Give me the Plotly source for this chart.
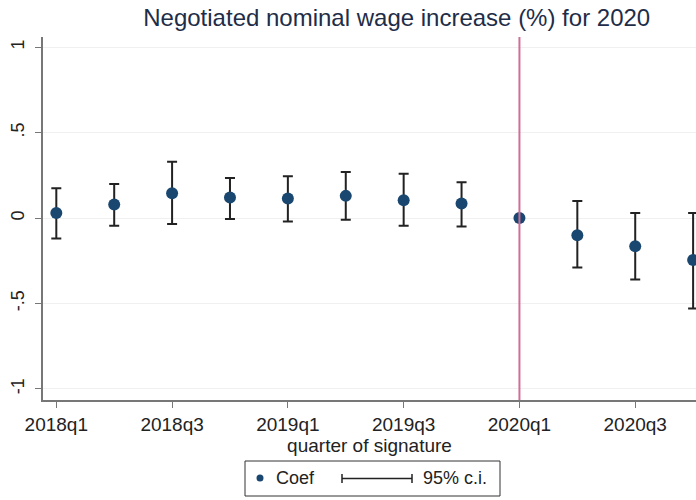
import plotly.graph_objects as go

quarters = ["2018q1", "2018q2", "2018q3", "2018q4", "2019q1", "2019q2",
            "2019q3", "2019q4", "2020q1", "2020q2", "2020q3", "2020q4"]
coef = [0.03, 0.08, 0.145, 0.12, 0.115, 0.13, 0.105, 0.085, 0.0, -0.10, -0.165, -0.245]
ci_hi = [0.175, 0.20, 0.33, 0.235, 0.245, 0.27, 0.26, 0.21, 0.0, 0.10, 0.03, 0.03]
ci_lo = [-0.12, -0.045, -0.035, -0.005, -0.02, -0.01, -0.045, -0.05, 0.0, -0.29, -0.36, -0.53]
tick_labels = ["2018q1", "2018q3", "2019q1", "2019q3", "2020q1", "2020q3"]
ref_quarter = "2020q1"

xs = list(range(len(quarters)))
tick_pos = [quarters.index(t) for t in tick_labels]
err_plus = [h - c for h, c in zip(ci_hi, coef)]
err_minus = [c - l for c, l in zip(coef, ci_lo)]

# plot-area geometry (pixels) for the manual legend
W, H = 696, 500
L, R, T, B = 43, 0, 37, 100
pw, ph = W - L - R, H - T - B

def px(x):
    return (x - L) / pw

def py(y):
    return (H - B - y) / ph

FONT = "Liberation Sans, Arial, sans-serif"

fig = go.Figure()
fig.add_trace(go.Scatter(
    x=xs, y=coef, mode="markers",
    marker=dict(color="#1a476f", size=12),
    error_y=dict(type="data", symmetric=False, array=err_plus, arrayminus=err_minus,
                 color="#222222", thickness=2, width=5),
    showlegend=False, cliponaxis=False,
))

fig.add_shape(type="line", xref="x", yref="paper",
              x0=quarters.index(ref_quarter), x1=quarters.index(ref_quarter), y0=0, y1=1,
              line=dict(color="#cf6f97", width=2))

# legend box
fig.add_shape(type="rect", xref="paper", yref="paper",
              x0=px(245), x1=px(500), y0=py(461), y1=py(496),
              line=dict(color="#333333", width=1), fillcolor="white")
fig.add_shape(type="circle", xref="paper", yref="paper",
              x0=px(256.5), x1=px(263.5), y0=py(474.5), y1=py(481.5),
              line=dict(color="#1a476f", width=0), fillcolor="#1a476f")
fig.add_annotation(xref="paper", yref="paper", x=px(274), y=py(478.5),
                   text="Coef", showarrow=False, xanchor="left", yanchor="middle",
                   font=dict(family=FONT, size=18, color="#222222"))
fig.add_shape(type="line", xref="paper", yref="paper",
              x0=px(342), x1=px(412), y0=py(478.5), y1=py(478.5),
              line=dict(color="#222222", width=1.5))
for xc in (342, 412):
    fig.add_shape(type="line", xref="paper", yref="paper",
                  x0=px(xc), x1=px(xc), y0=py(474), y1=py(483),
                  line=dict(color="#222222", width=1.5))
fig.add_annotation(xref="paper", yref="paper", x=px(421), y=py(478.5),
                   text="95% c.i.", showarrow=False, xanchor="left", yanchor="middle",
                   font=dict(family=FONT, size=18, color="#222222"))

fig.update_layout(
    width=W, height=H,
    margin=dict(l=L, r=R, t=T, b=B, autoexpand=False),
    paper_bgcolor="white", plot_bgcolor="white",
    font=dict(family=FONT, color="#222222"),
    title=dict(text="Negotiated nominal wage increase (%) for 2020",
               x=0.570, xanchor="center", y=0.964, yanchor="middle",
               font=dict(size=24, color="#1e2d48")),
    xaxis=dict(range=[-0.23, 11.05], tickvals=tick_pos, ticktext=tick_labels,
               showgrid=False, zeroline=False, showline=True, linecolor="#777777", linewidth=1.5,
               ticks="outside", ticklen=6, tickcolor="#777777",
               tickfont=dict(size=19, color="#222222"),
               title=dict(text="quarter of signature", standoff=2,
                          font=dict(size=19, color="#222222"))),
    yaxis=dict(range=[-1.065, 1.06], tickvals=[-1, -0.5, 0, 0.5, 1],
               ticktext=["-1", "-.5", "0", ".5", "1"], tickangle=-90,
               showgrid=True, gridcolor="#f0f0f0", gridwidth=1, zeroline=False,
               showline=True, linecolor="#777777", linewidth=1.5,
               ticks="outside", ticklen=6, tickcolor="#777777", ticklabelstandoff=4,
               tickfont=dict(size=18, color="#222222")),
)

fig.write_html("out.html", config={"displayModeBar": False},
               post_script="document.body.style.margin='0';document.body.style.padding='0';")
